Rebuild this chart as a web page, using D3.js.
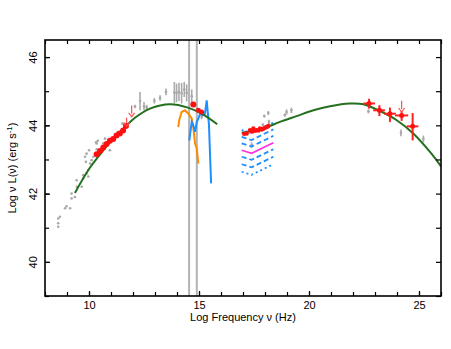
<!DOCTYPE html>
<html>
<head>
<meta charset="utf-8">
<script src="https://cdn.jsdelivr.net/npm/d3@7"></script>
<style>
  body { margin: 0; background: #fff; }
  text { font-family: "Liberation Sans", Arial, sans-serif; }
</style>
</head>
<body>
<div class="canva"></div>
<script>
// axis ticks
const xMajor = [10, 15, 20, 25];
const xMinor = d3.range(8, 27);
const yMajor = [40, 42, 44, 46];
const yMinor = d3.range(39, 47);

// model curves
const syncX = [9.36, 10.0, 10.42, 11.03, 11.64, 12.09, 12.77, 13.68, 14.5, 15.12, 15.83];
const syncY = [42.02, 42.72, 43.08, 43.56, 43.95, 44.22, 44.49, 44.62, 44.52, 44.34, 44.03];
const icX = [16.94, 17.92, 18.68, 19.44, 20.2, 20.95, 21.86, 22.47, 23.23, 23.99, 24.74, 25.5, 26.0];
const icY = [43.78, 43.91, 44.1, 44.27, 44.44, 44.56, 44.64, 44.62, 44.42, 44.15, 43.76, 43.22, 42.8];

// archival data (gray), with half error
const archX = [8.6, 8.6, 8.6, 8.68, 8.91, 8.98, 9.14, 9.21, 9.21, 9.36, 9.44, 9.45, 9.67, 9.74, 9.74,
  9.89, 9.97, 9.97, 10.05, 10.12, 10.2, 9.86, 9.82, 9.89, 10.0, 10.27, 10.35, 10.35, 10.58, 10.65,
  10.73, 10.8, 10.4, 10.95, 11.52, 11.3, 10.32,
  12.09, 12.32, 12.5, 12.62, 12.97, 13.23, 13.5, 13.88, 13.98, 14.09, 14.21, 14.33, 14.44, 14.67, 14.82, 15.12,
  17.97, 18.15, 18.18, 17.9, 17.47, 17.39, 18.9, 18.98, 19.2,
  22.7, 23.2, 24.18, 25.2];
const archY = [41.03, 41.13, 41.27, 41.32, 41.57, 41.63, 41.57, 41.86, 42.0, 41.9, 42.39, 42.2, 42.2, 42.44, 42.54,
  42.59, 42.69, 42.5, 42.88, 42.98, 43.08, 42.93, 43.08, 43.17, 43.27, 43.17, 43.47, 43.3, 43.32, 43.47,
  43.61, 43.4, 43.55, 43.27, 44.05, 43.8, 43.5,
  44.55, 44.71, 44.56, 44.52, 44.72, 44.8, 44.98, 44.96, 44.95, 44.98, 44.94, 45.05, 44.95, 44.85, 44.6, 44.25,
  44.27, 44.36, 44.1, 44.02, 43.8, 43.42, 44.3, 44.39, 44.44,
  44.41, 44.4, 43.78, 43.6];
const archErr = [0, 0, 0, 0, 0, 0, 0, 0, 0, 0, 0, 0, 0, 0, 0,
  0, 0, 0, 0, 0, 0, 0, 0, 0, 0, 0, 0, 0, 0, 0,
  0, 0, 0, 0, 0, 0, 0,
  0.05, 0.27, 0.12, 0.08, 0.08, 0.08, 0.1, 0.31, 0.27, 0.27, 0.3, 0.22, 0.25, 0.2, 0.07, 0.07,
  0.04, 0.06, 0.06, 0.03, 0, 0.08, 0.05, 0.08, 0.08,
  0.06, 0.03, 0.1, 0.1];

// simultaneous SED points (red)
const sedX = [10.35, 10.5, 10.65, 10.8, 10.95, 11.1, 11.25, 11.4, 11.55, 11.68,
  14.74, 14.97, 15.12,
  17.05, 17.17, 17.32, 17.4, 17.47, 17.55, 17.62, 17.7, 17.77, 17.85, 17.92, 18.0, 18.08, 18.15];
const sedY = [43.15, 43.25, 43.35, 43.45, 43.55, 43.6, 43.7, 43.76, 43.85, 43.98,
  44.61, 44.44, 44.39,
  43.75, 43.76, 43.86, 43.82, 43.91, 43.84, 43.86, 43.85, 43.91, 43.88, 43.9, 43.93, 43.95, 43.98];
const sedR = [3, 3, 3, 3, 3, 3, 3, 3, 3, 3,
  3, 2.5, 2.5,
  2.2, 2.2, 2.2, 2.2, 2.2, 2.2, 2.2, 2.2, 2.2, 2.2, 2.2, 2.2, 2.2, 2.2];

// gamma-ray crosses
const gamX = [22.73, 23.2, 23.68, 24.21, 24.71];
const gamY = [44.64, 44.44, 44.34, 44.29, 43.97];
const gamXlo = [22.47, 22.92, 23.42, 23.91, 24.44];
const gamXhi = [23.0, 23.45, 23.95, 24.51, 24.97];
const gamYlo = [44.49, 44.27, 44.1, 44.13, 43.56];
const gamYhi = [44.78, 44.59, 44.52, 44.42, 44.36];

// upper limits
const ulX = [11.94, 24.21, 11.71];
const ulY = [44.58, 44.72, 44.22];
const ulLen = [0.3, 0.3, 0.22];

// optical / UV spectra
const optX = [14.06, 14.1, 14.21, 14.36, 14.52, 14.67, 14.74, 14.82, 14.9, 14.97];
const optY = [43.95, 44.15, 44.39, 44.44, 44.34, 44.2, 43.95, 43.47, 43.32, 42.88];
const uvX = [14.56, 14.62, 14.67, 14.74, 14.82, 14.9, 14.97, 15.05, 15.17, 15.27, 15.35, 15.39, 15.45, 15.5, 15.55];
const uvY = [43.56, 43.86, 44.1, 44.0, 43.81, 44.1, 44.2, 44.34, 44.3, 44.34, 44.73, 44.44, 44.05, 43.18, 42.3];

// vertical gray lines
const vLines = [14.55, 14.9];

// X-ray slices: x positions, left / middle / right values
const sliceX = [16.94, 17.39, 18.38];
const sliceLeft = [43.86, 43.66, 43.47, 43.08, 42.86, 42.64];
const sliceMid = [43.78, 43.57, 43.38, 42.99, 42.77, 42.55];
const sliceRight = [44.08, 43.88, 43.69, 43.3, 43.08, 42.86];
const magLeft = 43.27, magMid = 43.18, magRight = 43.49;

const W = 451, H = 349;
const margin = {top: 40, right: 10, bottom: 53, left: 45};
const width = W - margin.left - margin.right;
const height = H - margin.top - margin.bottom;

const svg = d3.select(".canva").append("svg")
    .attr("width", W)
    .attr("height", H);

const graph = svg.append("g")
    .attr("transform", `translate(${margin.left}, ${margin.top})`);

const x = d3.scaleLinear().domain([8, 26]).range([0, width]);
const y = d3.scaleLinear().domain([39, 46.5]).range([height, 0]);

svg.append("defs").append("clipPath").attr("id", "clip")
    .append("rect").attr("width", width).attr("height", height);

const plot = graph.append("g").attr("clip-path", "url(#clip)");

// vertical lines
plot.selectAll(".vline")
    .data(vLines)
    .enter()
    .append("line")
    .attr("x1", d => x(d)).attr("x2", d => x(d))
    .attr("y1", 0).attr("y2", height)
    .attr("stroke", "#b3b3b3")
    .attr("stroke-width", 2);

// archival gray
const arch = archX.map((d, i) => ({x: d, y: archY[i], e: archErr[i]}));
plot.selectAll(".aerr")
    .data(arch.filter(d => d.e > 0))
    .enter()
    .append("line")
    .attr("x1", d => x(d.x)).attr("x2", d => x(d.x))
    .attr("y1", d => y(d.y - d.e)).attr("y2", d => y(d.y + d.e))
    .attr("stroke", "#aaaaaa")
    .attr("stroke-width", 1.6);
plot.selectAll(".apt")
    .data(arch)
    .enter()
    .append("circle")
    .attr("cx", d => x(d.x)).attr("cy", d => y(d.y))
    .attr("r", 1.3)
    .attr("fill", "#a8a8a8");

// X-ray slices
const sliceLine = d3.line().x(d => x(d[0])).y(d => y(d[1]));
const dashes = ["2,2", "5,3", "5,3", "5,3", "5,3", "2,3"];
sliceLeft.forEach((l, i) => {
    plot.append("path")
        .attr("d", sliceLine([[sliceX[0], l], [sliceX[1], sliceMid[i]], [sliceX[2], sliceRight[i]]]))
        .attr("fill", "none")
        .attr("stroke", "#1e8fff")
        .attr("stroke-width", 1.8)
        .attr("stroke-dasharray", dashes[i]);
});
plot.append("path")
    .attr("d", sliceLine([[sliceX[0], magLeft], [sliceX[1], magMid], [sliceX[2], magRight]]))
    .attr("fill", "none")
    .attr("stroke", "#ff33dd")
    .attr("stroke-width", 1.8);

// optical / UV spectra
const specLine = d3.line().x(d => x(d[0])).y(d => y(d[1]));
plot.append("path")
    .attr("d", specLine(optX.map((d, i) => [d, optY[i]])))
    .attr("fill", "none")
    .attr("stroke", "#ff8c00")
    .attr("stroke-width", 2);
plot.append("path")
    .attr("d", specLine(uvX.map((d, i) => [d, uvY[i]])))
    .attr("fill", "none")
    .attr("stroke", "#1e8fff")
    .attr("stroke-width", 2);

// model curves
const model = d3.line().x(d => x(d[0])).y(d => y(d[1])).curve(d3.curveCatmullRom);
plot.append("path")
    .attr("d", model(syncX.map((d, i) => [d, syncY[i]])))
    .attr("fill", "none")
    .attr("stroke", "#24701f")
    .attr("stroke-width", 2);
plot.append("path")
    .attr("d", model(icX.map((d, i) => [d, icY[i]])))
    .attr("fill", "none")
    .attr("stroke", "#24701f")
    .attr("stroke-width", 2);

// red SED points
plot.selectAll(".sed")
    .data(sedX.map((d, i) => ({x: d, y: sedY[i], r: sedR[i]})))
    .enter()
    .append("circle")
    .attr("cx", d => x(d.x)).attr("cy", d => y(d.y))
    .attr("r", d => d.r)
    .attr("fill", "#ff1010");

// gamma crosses
const gam = gamX.map((d, i) => ({x: d, y: gamY[i], x0: gamXlo[i], x1: gamXhi[i], y0: gamYlo[i], y1: gamYhi[i]}));
plot.selectAll(".gh")
    .data(gam)
    .enter()
    .append("line")
    .attr("x1", d => x(d.x0)).attr("x2", d => x(d.x1))
    .attr("y1", d => y(d.y)).attr("y2", d => y(d.y))
    .attr("stroke", "#ff2020")
    .attr("stroke-width", 2);
plot.selectAll(".gv")
    .data(gam)
    .enter()
    .append("line")
    .attr("x1", d => x(d.x)).attr("x2", d => x(d.x))
    .attr("y1", d => y(d.y0)).attr("y2", d => y(d.y1))
    .attr("stroke", "#ff2020")
    .attr("stroke-width", 2);
plot.selectAll(".gp")
    .data(gam)
    .enter()
    .append("circle")
    .attr("cx", d => x(d.x)).attr("cy", d => y(d.y))
    .attr("r", 2.5)
    .attr("fill", "#ff1010");

// upper limit arrows
ulX.forEach((ux, i) => {
    const px = x(ux), top = y(ulY[i]), bot = y(ulY[i] - ulLen[i]);
    plot.append("line")
        .attr("x1", px).attr("x2", px)
        .attr("y1", top).attr("y2", bot - 2)
        .attr("stroke", "#ff5050")
        .attr("stroke-width", 1.2);
    plot.append("path")
        .attr("d", `M${px - 3},${bot - 3}L${px},${bot + 1}L${px + 3},${bot - 3}`)
        .attr("fill", "none")
        .attr("stroke", "#ff5050")
        .attr("stroke-width", 1.2);
});

// axes, ticks inward on all sides
function styleAxis(g) {
    g.select(".domain").remove();
    g.selectAll("line").attr("stroke", "#000").attr("stroke-width", 1.2);
    g.selectAll("text").style("font-size", "11px").attr("fill", "#000")
        .style("font-family", "'Liberation Sans', Arial, sans-serif");
}

graph.append("g").attr("transform", `translate(0, ${height})`)
    .call(d3.axisBottom(x).tickValues(xMinor).tickSize(-4).tickFormat(""))
    .call(styleAxis);
graph.append("g").attr("transform", `translate(0, ${height})`)
    .call(d3.axisBottom(x).tickValues(xMajor).tickSize(-5).tickPadding(5).tickFormat(d3.format("d")))
    .call(styleAxis);
graph.append("g")
    .call(d3.axisTop(x).tickValues(xMinor).tickSize(-4).tickFormat(""))
    .call(styleAxis);
graph.append("g")
    .call(d3.axisLeft(y).tickValues(yMinor).tickSize(-4).tickFormat(""))
    .call(styleAxis);
graph.append("g")
    .call(d3.axisLeft(y).tickValues(yMajor).tickSize(-5).tickFormat(d3.format("d")))
    .call(styleAxis)
    .call(g => g.selectAll("text")
        .attr("x", 0).attr("y", -8).attr("dy", null)
        .attr("text-anchor", "middle")
        .attr("transform", "rotate(-90)"));
graph.append("g").attr("transform", `translate(${width}, 0)`)
    .call(d3.axisRight(y).tickValues(yMinor).tickSize(-5).tickFormat(""))
    .call(styleAxis);

// frame
graph.append("rect")
    .attr("width", width).attr("height", height)
    .attr("fill", "none")
    .attr("stroke", "#000")
    .attr("stroke-width", 1.6);

// axis labels
graph.append("text")
    .attr("x", width / 2)
    .attr("y", height + 25)
    .attr("text-anchor", "middle")
    .style("font-size", "11px")
    .text("Log Frequency ν (Hz)");

const yLab = svg.append("text")
    .attr("transform", `translate(16, ${margin.top + height / 2}) rotate(-90)`)
    .attr("text-anchor", "middle")
    .style("font-size", "11px");
yLab.append("tspan").text("Log ν L(ν) (erg s");
yLab.append("tspan").attr("dy", -4).style("font-size", "8px").text("-1");
yLab.append("tspan").attr("dy", 4).text(")");
</script>
</body>
</html>
